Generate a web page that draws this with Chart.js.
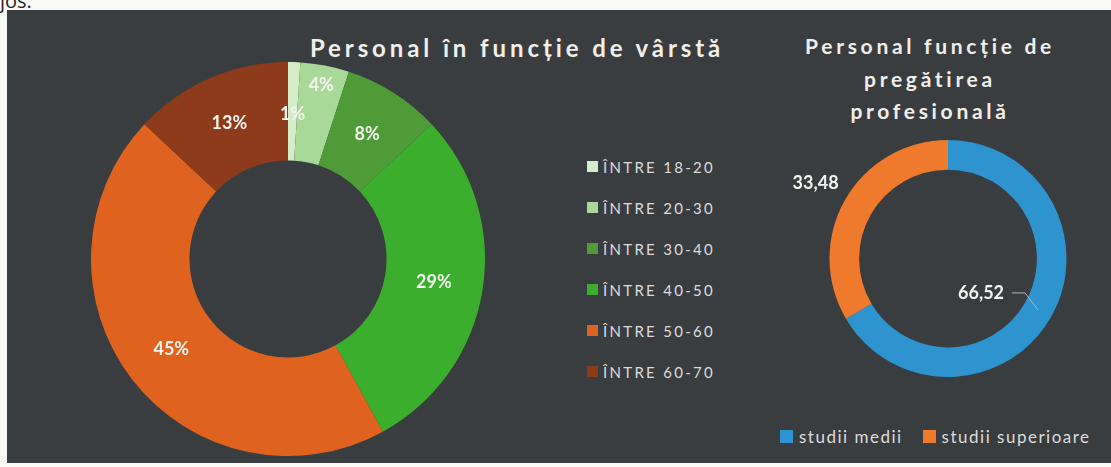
<!DOCTYPE html>
<html>
<head>
<meta charset="utf-8">
<script src="https://cdn.jsdelivr.net/npm/chart.js@4.4.1/dist/chart.umd.min.js"></script>
<style>
html,body{margin:0;padding:0;width:1111px;height:467px;overflow:hidden;background:#fafaf7;font-family:Lato,"Open Sans",sans-serif;}
#panel{position:absolute;left:7px;top:10px;width:1104px;height:453px;background:#3a3d3f;}
#jos{position:absolute;left:0;top:-13px;font-size:20px;color:#222;font-family:"Open Sans",sans-serif;}
.title{position:absolute;color:#f1efea;font-weight:bold;text-align:center;white-space:nowrap;}
#t1{left:217px;width:600px;top:36px;font-size:24px;line-height:24px;letter-spacing:3.9px;}
#t2{left:780px;width:300px;top:30px;font-size:21px;line-height:32.5px;letter-spacing:3.7px;}
.wrap{position:absolute;}
#w1{left:91px;top:62px;width:394px;height:394px;}
#w2{left:770px;top:120px;width:356px;height:277px;}
#leg1{position:absolute;left:587px;top:146px;}
#leg1 .it{height:41px;display:flex;align-items:center;color:#dcdcdc;font-size:15px;letter-spacing:2.3px;}
#leg1 .sq{width:11px;height:11px;margin-right:5px;}
#leg2{position:absolute;left:780px;top:424px;display:flex;align-items:center;height:24px;}
#leg2 .it{display:flex;align-items:center;color:#dcdcdc;font-size:17px;letter-spacing:1.5px;margin-right:20px;}
#leg2 .sq{width:13px;height:13px;margin-right:6px;}
</style>
</head>
<body>
<div id="panel"></div>
<div id="jos">jos.</div>
<div id="t1" class="title"></div>
<div id="w1" class="wrap"><canvas id="c1"></canvas></div>
<div id="leg1"></div>
<div id="t2" class="title"></div>
<div id="w2" class="wrap"><canvas id="c2"></canvas></div>
<div id="leg2"></div>
<script>
// ---- data ----
const ageTitle = 'Personal în funcție de vârstă';
const ageLabels = ['ÎNTRE 18-20', 'ÎNTRE 20-30', 'ÎNTRE 30-40', 'ÎNTRE 40-50', 'ÎNTRE 50-60', 'ÎNTRE 60-70'];
const ageValues = [1, 4, 8, 29, 45, 13];
const ageColors = ['#d4ecc8', '#a8d999', '#4f9b38', '#3cae2e', '#e0621f', '#8d3b1b'];

const eduTitle = ['Personal funcție de', 'pregătirea', 'profesională'];
const eduLabels = ['studii medii', 'studii superioare'];
const eduValues = [66.52, 33.48];
const eduColors = ['#2d94d0', '#f07a2c'];

// ---- label plugin ----
const sliceLabels = {
  id: 'sliceLabels',
  afterDatasetsDraw(chart, args, o) {
    const ctx = chart.ctx;
    const ds = chart.data.datasets[0];
    const total = ds.data.reduce((a, b) => a + b, 0);
    const arcs = chart.getDatasetMeta(0).data;
    ctx.save();
    ctx.font = o.font;
    ctx.fillStyle = o.color;
    ctx.textBaseline = 'middle';
    if ('letterSpacing' in ctx) ctx.letterSpacing = o.spacing || '0px';
    arcs.forEach((arc, i) => {
      const p = arc.getProps(['x', 'y', 'startAngle', 'endAngle', 'innerRadius', 'outerRadius'], true);
      const mid = (p.startAngle + p.endAngle) / 2;
      const ring = p.outerRadius - p.innerRadius;
      const pl = (o.placement && o.placement[i]) || {};
      const txt = o.format(ds.data[i], total);
      if (pl.leader) {
        const r = p.innerRadius + ring * 0.5;
        const px = p.x + Math.cos(mid) * r, py = p.y + Math.sin(mid) * r;
        const ex = px + pl.leader[0], ey = py + pl.leader[1];
        ctx.strokeStyle = o.lineColor;
        ctx.lineWidth = 1;
        ctx.beginPath();
        ctx.moveTo(px, py);
        ctx.lineTo(ex, ey);
        ctx.lineTo(ex - pl.tail, ey);
        ctx.stroke();
        ctx.textAlign = 'right';
        ctx.fillText(txt, ex - pl.tail - pl.gap, ey);
      } else {
        const r = pl.outside != null ? p.outerRadius + pl.outside : p.innerRadius + ring * (pl.frac != null ? pl.frac : 0.5);
        ctx.textAlign = 'center';
        ctx.fillText(txt, p.x + Math.cos(mid) * r, p.y + Math.sin(mid) * r);
      }
    });
    ctx.restore();
  }
};

function baseOptions(cutout, padding, labelOpts) {
  return {
    responsive: true,
    maintainAspectRatio: false,
    animation: false,
    events: [],
    cutout: cutout,
    layout: { padding: padding },
    plugins: {
      legend: { display: false },
      tooltip: { enabled: false },
      title: { display: false },
      sliceLabels: labelOpts
    }
  };
}

new Chart(document.getElementById('c1'), {
  type: 'doughnut',
  data: { labels: ageLabels, datasets: [{ data: ageValues, backgroundColor: ageColors, borderWidth: 0 }] },
  options: baseOptions('50%', 0, {
    font: 'bold 18px Lato, "Open Sans", sans-serif',
    color: '#f4f4f0',
    format: (v, t) => Math.round(v / t * 100) + '%',
    placement: [{ frac: 0.47 }, { frac: 0.8 }]
  }),
  plugins: [sliceLabels]
});

new Chart(document.getElementById('c2'), {
  type: 'doughnut',
  data: { labels: eduLabels, datasets: [{ data: eduValues, backgroundColor: eduColors, borderWidth: 0 }] },
  options: baseOptions('75%', { top: 20, bottom: 20, left: 0, right: 0 }, {
    font: 'bold 18px Lato, "Open Sans", sans-serif',
    color: '#f4f4f0',
    lineColor: '#a9bcc6',
    format: (v) => v.toFixed(2).replace('.', ','),
    placement: [{ leader: [-13, -17], tail: 13, gap: 8 }, { outside: 34 }]
  }),
  plugins: [sliceLabels]
});

// ---- titles & legends ----
document.getElementById('t1').textContent = ageTitle;
document.getElementById('t2').innerHTML = eduTitle.map(s => '<div>' + s + '</div>').join('');
function buildLegend(el, labels, colors) {
  el.innerHTML = labels.map((l, i) =>
    '<div class="it"><span class="sq" style="background:' + colors[i] + '"></span><span>' + l + '</span></div>').join('');
}
buildLegend(document.getElementById('leg1'), ageLabels, ageColors);
buildLegend(document.getElementById('leg2'), eduLabels, eduColors);
</script>
</body>
</html>
